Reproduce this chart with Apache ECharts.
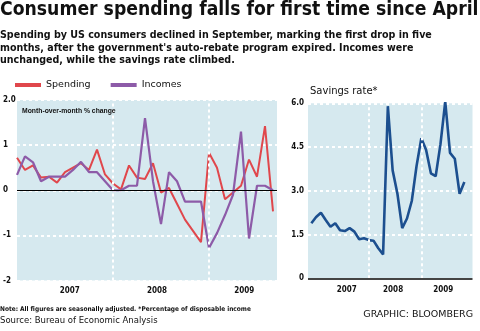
<!DOCTYPE html>
<html><head><meta charset="utf-8">
<script src="https://cdn.jsdelivr.net/npm/echarts@6/dist/echarts.min.js"></script>
<style>html,body{margin:0;padding:0;background:#fff}#c{width:480px;height:331px}</style>
</head><body><div id="c"></div>
<script>
// Monthly data, Jan 2007 .. Sep 2009 (index 0 = Jan 2007)
const spending = [0.72,0.45,0.55,0.28,0.30,0.17,0.40,0.50,0.60,0.45,0.90,0.35,0.15,0.02,0.55,0.28,0.25,0.60,-0.05,0.05,-0.30,-0.65,-0.90,-1.15,0.83,0.50,-0.20,-0.05,0.10,0.68,0.30,1.42,-0.47];
const incomes  = [0.34,0.75,0.62,0.20,0.30,0.30,0.30,0.45,0.63,0.40,0.40,0.20,0.00,0.00,0.10,0.10,1.60,0.20,-0.75,0.40,0.20,-0.25,-0.25,-0.25,-1.28,-0.95,-0.55,-0.10,1.30,-1.07,0.10,0.10,0.00];
const savings  = [1.89,2.10,2.25,2.00,1.77,1.89,1.65,1.62,1.72,1.60,1.34,1.37,1.31,1.29,1.03,0.82,5.90,3.70,2.90,1.72,2.05,2.65,3.85,4.80,4.40,3.60,3.50,4.60,6.05,4.30,4.10,2.90,3.30];
const yearLabels = ['2007','2008','2009'];
const leftYearPos = [6.6, 17.5, 28.4];
const rightYearPos = [7.4, 17.1, 27.6];
const leftYearLines = [12, 24];
const rightYearLines = [12, 23];

const BG = '#d6e9ef';
const RED = '#e0474c';
const PURPLE = '#8d5ba8';
const BLUE = '#1c4f8f';
const COND = "'DejaVu Sans Condensed',sans-serif";
const DEJ = "'DejaVu Sans',sans-serif";
const LIB = "'Liberation Sans',sans-serif";

const toXY = arr => arr.map((v,i)=>[i,v]);
const dotted = {color:'#ffffff', width:2, type:[3,3]};

const chart = echarts.init(document.getElementById('c'), null, {renderer:'canvas'});
chart.setOption({
  animation:false,
  backgroundColor:'#fff',
  title:[
    {text:'Consumer spending falls for first time since April', left:0, top:1, padding:0,
     textStyle:{fontFamily:COND, fontWeight:'bold', fontSize:19.2, color:'#111'}},
    {text:"Spending by US consumers declined in September, marking the first drop in five\nmonths, after the government's auto-rebate program expired. Incomes were\nunchanged, while the savings rate climbed.",
     left:0, top:29, padding:0, textStyle:{fontFamily:COND, fontWeight:'bold', fontSize:10.6, lineHeight:12.5, color:'#111'}},
    {text:'Month-over-month % change', left:22, top:108, padding:0,
     textStyle:{fontFamily:LIB, fontWeight:'bold', fontSize:6.8, color:'#111'}},
    {text:'Savings rate*', left:310, top:86, padding:0,
     textStyle:{fontFamily:DEJ, fontWeight:'normal', fontSize:10, color:'#111'}},
    {text:'Note: All figures are seasonally adjusted. *Percentage of disposable income', left:0, top:306, padding:0,
     textStyle:{fontFamily:COND, fontWeight:'bold', fontSize:6.5, color:'#111'}},
    {text:'Source: Bureau of Economic Analysis', left:0, top:316, padding:0,
     textStyle:{fontFamily:DEJ, fontWeight:'normal', fontSize:8.5, color:'#111'}},
    {text:'GRAPHIC: BLOOMBERG', right:7, top:310, padding:0,
     textStyle:{fontFamily:DEJ, fontWeight:'normal', fontSize:9.5, color:'#111'}}
  ],
  legend:{left:15, top:80, padding:0, itemWidth:26, itemHeight:4, icon:'rect', itemGap:20,
    textStyle:{fontFamily:DEJ, fontSize:9.5, color:'#111'}, data:['Spending','Incomes']},
  grid:[
    {left:15, right:203, top:100, bottom:50.5, show:true, backgroundColor:BG, borderWidth:0},
    {left:308, right:7.5, top:103.3, bottom:52.7, show:true, backgroundColor:BG, borderWidth:0}
  ],
  xAxis:[
    {type:'value', gridIndex:0, min:0, max:32.5,
     axisLine:{show:false, onZero:false}, axisTick:{show:false}, splitLine:{show:false},
     axisLabel:{customValues:leftYearPos, formatter:(v)=>yearLabels[leftYearPos.indexOf(v)]||'',
       fontFamily:COND, fontWeight:'bold', fontSize:8, color:'#111', margin:6}},
    {type:'value', gridIndex:1, min:-0.7, max:33.7,
     axisLine:{show:false, onZero:false}, axisTick:{show:false}, splitLine:{show:false},
     axisLabel:{customValues:rightYearPos, formatter:(v)=>yearLabels[rightYearPos.indexOf(v)]||'',
       fontFamily:COND, fontWeight:'bold', fontSize:8, color:'#111', margin:8}}
  ],
  yAxis:[
    {type:'value', gridIndex:0, min:-2, max:2, interval:1,
     axisLine:{show:false}, axisTick:{show:false},
     splitLine:{show:true, lineStyle:dotted},
     axisLabel:{align:'left', margin:14, fontFamily:COND, fontWeight:'bold', fontSize:8, color:'#111',
       formatter:(v)=> v===2 ? '2.0' : String(v)}},
    {type:'value', gridIndex:1, min:0, max:6, interval:1.5,
     axisLine:{show:false}, axisTick:{show:false},
     splitLine:{show:true, lineStyle:dotted},
     axisLabel:{align:'right', margin:4, fontFamily:COND, fontWeight:'bold', fontSize:8, color:'#111',
       formatter:(v)=> v===0 ? '0' : v.toFixed(1)}}
  ],
  series:[
    {type:'line', xAxisIndex:0, yAxisIndex:0, data:[], z:1, silent:true,
     markLine:{silent:true, symbol:['none','none'], label:{show:false}, animation:false,
       data:[
         ...leftYearLines.map(x=>({xAxis:x, lineStyle:dotted})),
         {yAxis:0, lineStyle:{color:'#000', width:1.2, type:'solid'}}
       ]}},
    {type:'line', xAxisIndex:1, yAxisIndex:1, data:[], z:1, silent:true,
     markLine:{silent:true, symbol:['none','none'], label:{show:false}, animation:false,
       data:[
         ...rightYearLines.map(x=>({xAxis:x, lineStyle:dotted})),
         {yAxis:0, lineStyle:{color:'#444', width:2, type:'solid'}}
       ]}},
    {name:'Spending', type:'line', xAxisIndex:0, yAxisIndex:0, data:toXY(spending), z:3,
     symbol:'none', lineStyle:{color:RED, width:2}, itemStyle:{color:RED}},
    {name:'Incomes', type:'line', xAxisIndex:0, yAxisIndex:0, data:toXY(incomes), z:4,
     symbol:'none', lineStyle:{color:PURPLE, width:2.2}, itemStyle:{color:PURPLE}},
    {name:'Savings rate', type:'line', xAxisIndex:1, yAxisIndex:1, data:toXY(savings), z:3,
     symbol:'none', lineStyle:{color:BLUE, width:2.6}, itemStyle:{color:BLUE}}
  ]
});
</script></body></html>
